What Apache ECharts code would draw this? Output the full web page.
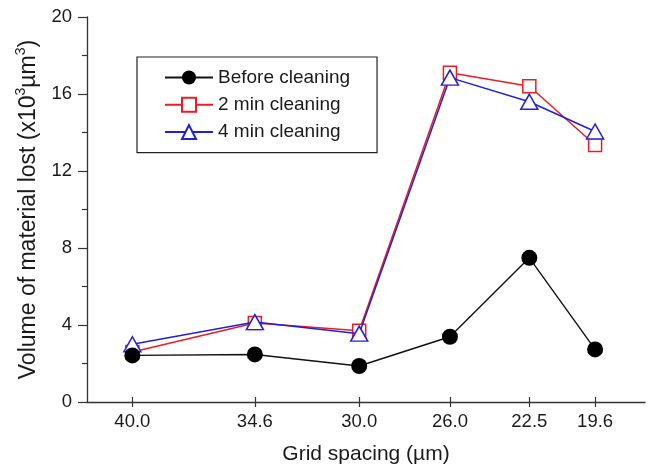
<!DOCTYPE html>
<html>
<head>
<meta charset="utf-8">
<script src="https://cdn.jsdelivr.net/npm/echarts@6/dist/echarts.min.js"></script>
<style>
  html, body { margin: 0; padding: 0; background: #fff; }
  #chart { width: 651px; height: 470px; }
</style>
</head>
<body>
<div id="chart"></div>
<script>
// Grid spacing (µm) for each measurement
const gridSpacing = [40.0, 34.6, 30.0, 26.0, 22.5, 19.6];
// Volume of material lost (x10^3 µm^3)
const beforeCleaning = [2.42, 2.47, 1.87, 3.39, 7.49, 2.73];
const twoMinCleaning = [2.6, 4.1, 3.7, 17.1, 16.4, 13.35];
const fourMinCleaning = [3.0, 4.15, 3.55, 16.85, 15.6, 14.05];
const yTicks = [0, 4, 8, 12, 16, 20];

const FONT = "'Liberation Sans', Arial, sans-serif";
const TEXT = '#1a1a1a';
const AXIS = '#333';

const pairs = arr => gridSpacing.map((x, i) => [x, arr[i]]);

const chart = echarts.init(document.getElementById('chart'), null, { renderer: 'canvas' });

// spacing decreases to the right
const xBase = {
  type: 'value',
  min: 17.4,
  max: 42,
  inverse: true,
  splitLine: { show: false }
};

chart.setOption({
  animation: false,
  backgroundColor: '#fff',
  textStyle: { fontFamily: FONT },
  grid: { left: 87, right: 6, top: 17, bottom: 67, containLabel: false },
  legend: {
    left: 137,
    top: 57,
    orient: 'vertical',
    data: ['Before cleaning', '2 min cleaning', '4 min cleaning'],
    itemWidth: 48,
    itemHeight: 17.5,
    itemGap: 8.3,
    padding: [11, 27, 11, 27],
    borderColor: '#222',
    borderWidth: 1.2,
    borderRadius: 0,
    backgroundColor: '#fff',
    textStyle: { fontFamily: FONT, fontSize: 19, color: TEXT, padding: [0, 0, 0, 0] }
  },
  xAxis: [
    Object.assign({}, xBase, {
      name: 'Grid spacing (µm)',
      nameLocation: 'middle',
      nameGap: 42,
      nameTextStyle: { fontFamily: FONT, fontSize: 21, color: TEXT },
      axisLine: { show: true, onZero: false, lineStyle: { color: AXIS, width: 1.3 } },
      axisTick: {
        show: true, length: 5, inside: false,
        customValues: gridSpacing,
        lineStyle: { color: AXIS, width: 1.2 }
      },
      axisLabel: {
        show: true, margin: 10,
        customValues: gridSpacing,
        formatter: v => Number(v).toFixed(1),
        fontFamily: FONT, fontSize: 18.5, color: TEXT
      }
    }),
    // companion axis drawing the inner half of the crossing ticks
    Object.assign({}, xBase, {
      position: 'bottom',
      axisLine: { show: false },
      axisTick: {
        show: true, length: 5, inside: true,
        customValues: gridSpacing,
        lineStyle: { color: AXIS, width: 1.2 }
      },
      axisLabel: { show: false }
    })
  ],
  yAxis: {
    type: 'value',
    min: 0,
    max: 20,
    interval: 4,
    name: '{t|Volume of material lost (x10}{sup|3}{t|µm}{sup|3}{t|)}',
    nameLocation: 'middle',
    nameGap: 43,
    nameRotate: 90,
    nameTextStyle: {
      fontFamily: FONT, fontSize: 23, color: TEXT,
      rich: {
        t: { fontFamily: FONT, fontSize: 23, color: TEXT, lineHeight: 26, verticalAlign: 'bottom' },
        sup: { fontFamily: FONT, fontSize: 14, color: TEXT, lineHeight: 26, verticalAlign: 'top' }
      }
    },
    splitLine: { show: false },
    axisLine: { show: true, lineStyle: { color: AXIS, width: 1.3 } },
    axisTick: { show: true, length: 9, lineStyle: { color: AXIS, width: 1.2 } },
    minorTick: { show: true, splitNumber: 2, length: 5, lineStyle: { color: AXIS, width: 1.2 } },
    axisLabel: {
      margin: 15,
      customValues: yTicks,
      fontFamily: FONT, fontSize: 18.5, color: TEXT
    }
  },
  series: [
    {
      name: 'Before cleaning',
      type: 'line',
      z: 5,
      xAxisIndex: 0,
      data: pairs(beforeCleaning),
      symbol: 'circle',
      symbolSize: 16,
      lineStyle: { color: '#111', width: 1.4 },
      itemStyle: { color: '#000', borderColor: '#000', borderWidth: 0 }
    },
    {
      name: '2 min cleaning',
      type: 'line',
      z: 3,
      xAxisIndex: 0,
      data: pairs(twoMinCleaning),
      symbol: 'rect',
      symbolSize: 13,
      lineStyle: { color: '#ec1c24', width: 1.5 },
      itemStyle: { color: '#fff', borderColor: '#ec1c24', borderWidth: 1.5 }
    },
    {
      name: '4 min cleaning',
      type: 'line',
      z: 4,
      xAxisIndex: 0,
      data: pairs(fourMinCleaning),
      symbol: 'triangle',
      symbolSize: [17, 15],
      lineStyle: { color: '#2020d8', width: 1.5 },
      itemStyle: { color: '#fff', borderColor: '#2020d8', borderWidth: 1.5 }
    }
  ]
});
</script>
</body>
</html>
